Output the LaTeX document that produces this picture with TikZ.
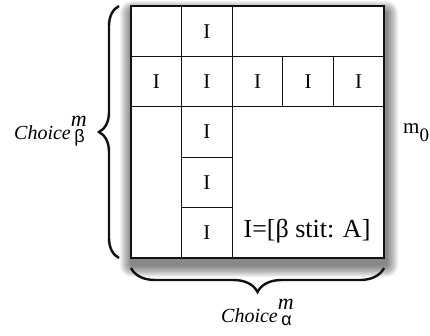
\documentclass[tikz,border=0pt]{standalone}
\usepackage{fontspec}
\setmainfont{Liberation Serif}
\setsansfont{Liberation Sans}
\usetikzlibrary{positioning,calc,decorations.pathreplacing}
\definecolor{ink}{HTML}{111111}
\tikzset{board/.style={draw=ink,line width=1.7pt,fill=white,inner sep=0pt,outer sep=0pt,minimum width=253pt,minimum height=252pt},haze/.style={fill=black,opacity=.05,rounded corners=#1},rule/.style={draw=ink,line width=1.2pt},cell/.style={font=\fontsize{21}{24}\selectfont,inner sep=0pt},brace/.style={decorate,decoration={brace,amplitude=#1},line width=2.4pt,draw=ink},tag/.style={font=\fontsize{20}{24}\selectfont,inner sep=0pt,anchor=base west}}
\newcommand{\choiceof}[1]{\textit{Choice}\rlap{\raisebox{12.5pt}{\fontsize{22}{22}\selectfont\itshape m}}\hspace{3.5pt}\raisebox{-3pt}{\fontsize{18}{18}\selectfont\sffamily #1}\hspace{6pt}}

\begin{document}
\begin{tikzpicture}[x=1pt,y=1pt]
\useasboundingbox (0,0) rectangle (430,335);
% soft shadow under the board
\foreach \r in {1,...,12}
  \fill[haze=\r pt] (132-\r,70-\r) rectangle (386+\r,322+\r);
\node[board,anchor=south west] (board) at (131,77) {};
% inner lines of the grid
\draw[rule] (181.6,329) -- (181.6,77) (232.2,329) -- (232.2,77);
\draw[rule] (282.8,278.6) -- (282.8,228.2) (333.4,278.6) -- (333.4,228.2);
\draw[rule] (131,278.6) -- (384,278.6) (131,228.2) -- (384,228.2);
\draw[rule] (181.6,177.8) -- (232.2,177.8) (181.6,127.4) -- (232.2,127.4);
% the I cells
\node[cell] (top) at (206.9,303.8) {I};
\foreach \x [count=\i] in {156.3,206.9,257.5,308.1,358.7} \node[cell] (row\i) at (\x,253.4) {I};
\foreach \y [count=\i] in {203,152.6,102.2} \node[cell] (col\i) at (206.9,\y) {I};
\node[font=\fontsize{26}{30}\selectfont,anchor=base,inner sep=0pt] (stit) at (307,98) {I=[β stit: A]};
% braces and their labels
\draw[brace=20pt] ([xshift=-12pt]board.south west) -- ([xshift=-12pt]board.north west);
\draw[brace=24pt] ([yshift=-10pt]board.south east) -- ([yshift=-10pt]board.south west);
\node[tag] (choiceb) at (14,196) {\choiceof{β}};
\node[tag] (choicea) at (221,13) {\choiceof{α}};
\node[tag,font=\fontsize{21}{24}\selectfont] (mzero) at (403,201.7) {m\raisebox{-8.4pt}{\fontsize{19}{19}\selectfont 0}};
\end{tikzpicture}
\end{document}
